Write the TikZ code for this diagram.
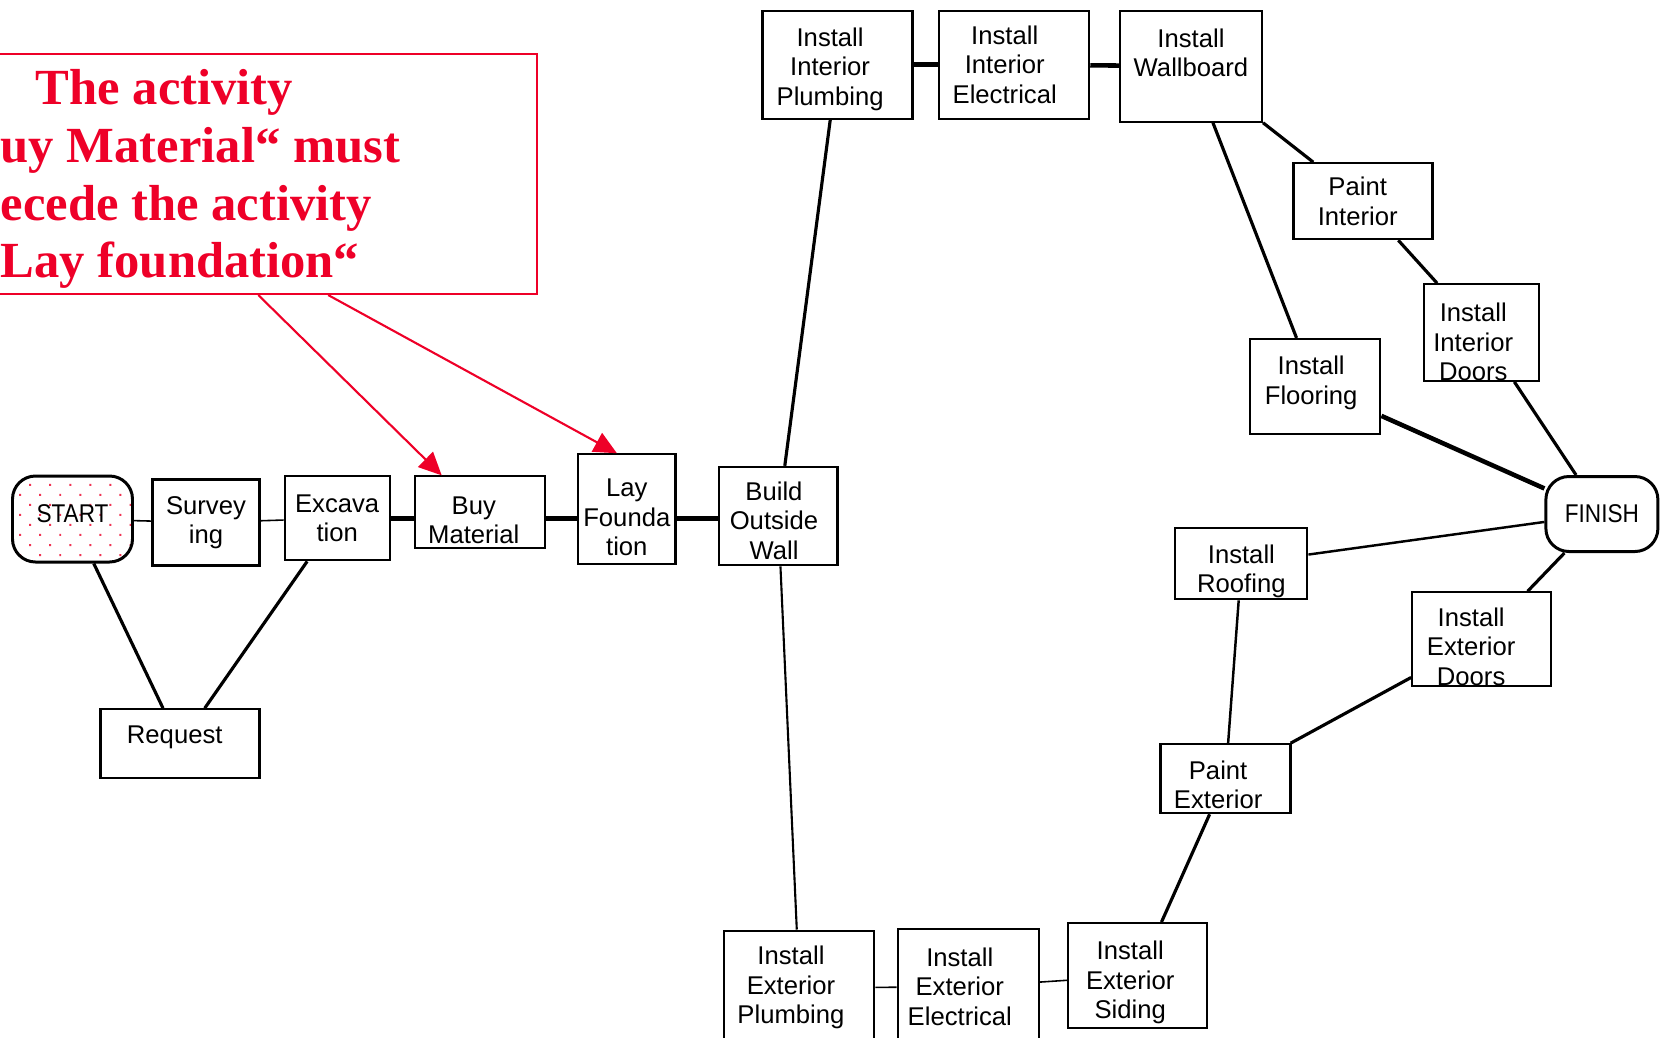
\documentclass[tikz,border=0pt]{standalone}
\usepackage{fontspec}
\setmainfont{Liberation Sans}
\newfontfamily\notefont{Liberation Serif}
\newfontfamily\condfont[FakeStretch=0.88]{Liberation Sans}
\usetikzlibrary{arrows.meta}
\usetikzlibrary{patterns.meta}
\definecolor{notered}{RGB}{238,0,40}
\newcommand{\tasksize}{\fontsize{7.3}{8.4}\selectfont}
% taller first line / deeper last line, to move a label down / up
\newcommand{\topgap}[1]{\rule{0pt}{#1}}
\newcommand{\botgap}[1]{\rule[-#1]{0pt}{#1}}

\begin{document}
\begin{tikzpicture}[x=0.1mm, y=-0.1mm,
    task/.style={draw, line width=0.6pt, inner sep=0pt, align=center, font=\tasksize},
    ends/.style={task, line width=0.85pt, rounded corners=2.3mm, font=\condfont\tasksize},
    nudge/.style={execute at end node={\hspace*{#1}}},
    link/.style={line width=0.9pt},
    heavylink/.style={line width=1.3pt},
    lightlink/.style={line width=0.45pt},
    notearrow/.style={color=notered, line width=0.6pt, -{Triangle[length=6.5pt, width=6pt]}}]

    \useasboundingbox (0, 0) rectangle (1660, 1037);

    % Declare the note
    \node[draw=notered, line width=0.6pt, minimum width=60mm, minimum height=24mm] at (237, 174) (note) {};
    \node[text=notered, font=\notefont\bfseries\fontsize{14.4}{16.4}\selectfont, align=left, anchor=north west, inner sep=0pt] at (0, 69) (notetext) {\hspace*{3.5mm}The activity\\uy Material“ must\\ecede the activity\\Lay foundation“};

    % Declare the states
    \node[ends, pattern={Dots[angle=45, distance=1.42mm, radius=0.4pt]}, pattern color=notered!80, minimum width=12mm, minimum height=8.6mm] at (72.5, 519) (START) {START\botgap{3pt}};
    \node[task, minimum width=10.7mm, minimum height=8.6mm] at (206, 522.5) (SURV) {Survey\\ing};
    \node[task, minimum width=10.5mm, minimum height=8.4mm] at (337.2, 518.3) (EXC) {Excava\\tion};
    \node[task, nudge=3.6pt, minimum width=13mm, minimum height=7.2mm] at (480.1, 512.4) (BUY) {\topgap{9.4pt}Buy\\Material};
    \node[task, minimum width=9.75mm, minimum height=11mm] at (626.8, 509.3) (LAY) {\topgap{9.7pt}Lay\\Founda\\tion};
    \node[task, nudge=2.4pt, minimum width=11.85mm, minimum height=9.85mm] at (778.2, 516.1) (WALL) {\topgap{7.9pt}Build\\Outside\\Wall};
    \node[task, nudge=3pt, minimum width=15.9mm, minimum height=6.9mm] at (180, 743.7) (REQ) {Request\botgap{5.1pt}};

    \node[task, nudge=4.2pt, minimum width=15mm, minimum height=10.8mm] at (837.5, 64.6) (IIP) {\topgap{7.9pt}Install\\Interior\\Plumbing};
    \node[task, nudge=5.4pt, minimum width=15mm, minimum height=10.8mm] at (1014.2, 64.6) (IIE) {Install\\Interior\\Electrical};
    \node[task, minimum width=14.2mm, minimum height=11.1mm] at (1191, 66.2) (IWB) {Install\\Wallboard\botgap{7.8pt}};
    \node[task, nudge=3pt, minimum width=13.9mm, minimum height=7.6mm] at (1363, 201.2) (PINT) {Paint\\Interior};
    \node[task, nudge=4.8pt, minimum width=11.5mm, minimum height=9.5mm] at (1481.7, 332.5) (IID) {\topgap{10.6pt}Install\\Interior\\Doors};
    \node[task, nudge=2.4pt, minimum width=13mm, minimum height=9.5mm] at (1315.4, 386.5) (FLOOR) {Install\\Flooring\botgap{3.6pt}};
    \node[ends, minimum width=11.2mm, minimum height=7.5mm] at (1601.9, 514) (FINISH) {FINISH};

    \node[task, minimum width=13.2mm, minimum height=7.1mm] at (1241.4, 563.8) (ROOF) {\topgap{9.7pt}Install\\Roofing};
    \node[task, nudge=6pt, minimum width=13.9mm, minimum height=9.2mm] at (1481.7, 639) (IED) {\topgap{9.7pt}Install\\Exterior\\Doors};
    \node[task, nudge=4.2pt, minimum width=13mm, minimum height=6.9mm] at (1225.5, 778.7) (PEXT) {\topgap{8.85pt}Paint\\Exterior};
    \node[task, nudge=4.2pt, minimum width=13.9mm, minimum height=10.5mm] at (1137.6, 975.6) (SIDE) {\topgap{9.4pt}Install\\Exterior\\Siding};
    \node[task, nudge=4.8pt, minimum width=14.1mm, minimum height=11.65mm] at (968.2, 986.8) (IEE) {Install\\Exterior\\Electrical};
    \node[task, nudge=4.8pt, minimum width=15mm, minimum height=11.45mm] at (799.4, 987.8) (IEP) {Install\\Exterior\\Plumbing};

    % Declare edges
    \draw[lightlink] (START) -- (SURV);
    \draw[lightlink] (SURV) -- (EXC);
    \draw[heavylink] (EXC.east) -- (EXC.east -| BUY.west);
    \draw[heavylink] (BUY.east |- EXC) -- (LAY.west |- EXC);
    \draw[heavylink] (LAY.east |- EXC) -- (WALL.west |- EXC);
    \draw[link] (START) -- (REQ);
    \draw[link] (EXC) -- (REQ);
    \draw[link] (WALL) -- (IIP);
    \draw[line width=0.6pt] (WALL) -- (IEP);
    \draw[heavylink] (IIP) -- (IIE);
    \draw[heavylink] (IIE) -- (IWB);
    \draw[link] (IWB) -- (PINT);
    \draw[link] (IWB) -- (FLOOR);
    \draw[link] (PINT) -- (IID);
    \draw[link] (IID) -- (FINISH);
    \draw[heavylink] (FLOOR) -- (FINISH);
    \draw[line width=0.7pt] (ROOF) -- (FINISH);
    \draw[link] (IED) -- (FINISH);
    \draw[line width=0.7pt] (ROOF) -- (PEXT);
    \draw[link] (IED) -- (PEXT);
    \draw[link] (PEXT) -- (SIDE);
    \draw[lightlink] (SIDE) -- (IEE);
    \draw[lightlink] (IEE) -- (IEP);

    % Declare note arrows
    \draw[notearrow] (note.-80) -- (BUY.136);
    \draw[notearrow] (note.-53) -- (LAY.100);

\end{tikzpicture}
\end{document}
